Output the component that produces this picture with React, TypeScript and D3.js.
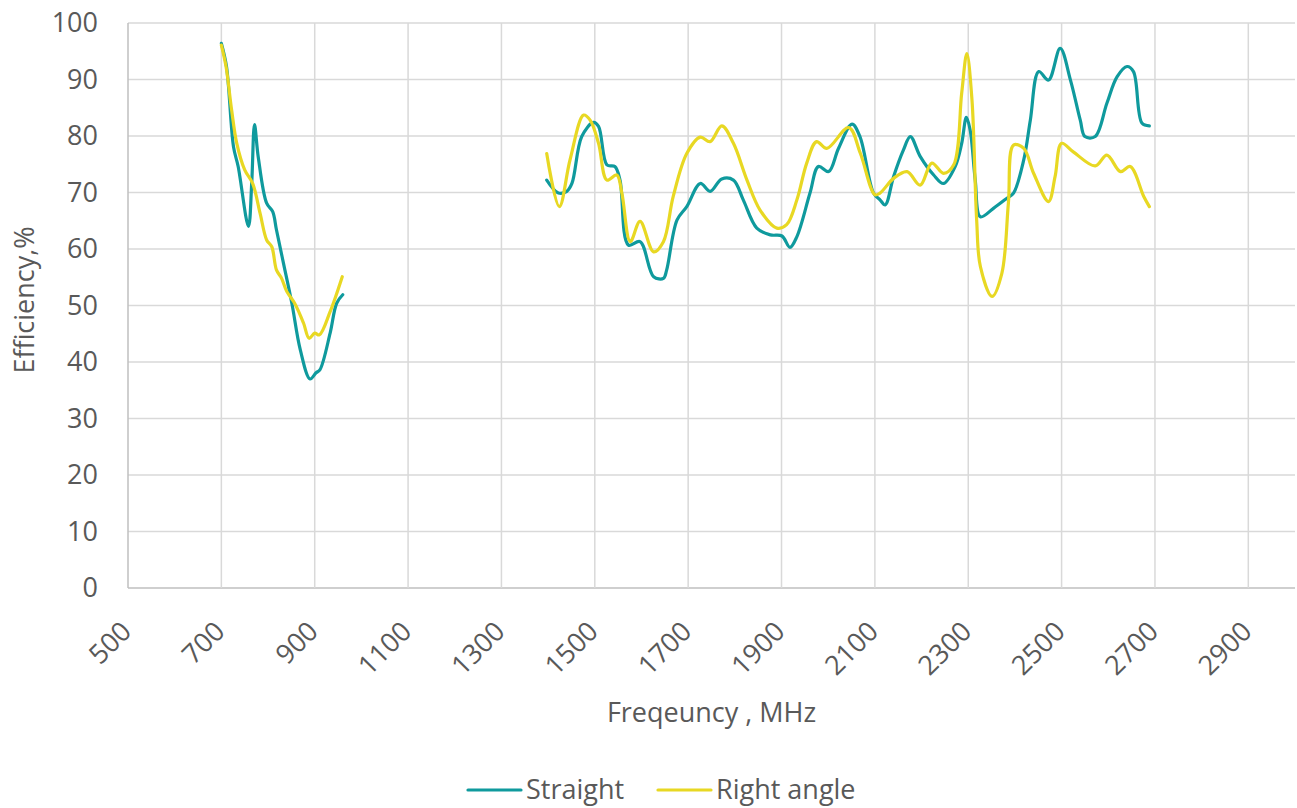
import React from "react";
import * as d3 from "d3";

const straightFreq = [
  700, 711, 726, 736, 758, 765, 771, 779, 797, 810, 818, 833, 851, 869, 890, 903, 911, 933, 947, 960,
  1100,
  1397, 1422, 1440, 1451, 1472, 1497, 1508, 1526, 1543, 1554, 1572, 1597, 1626, 1647, 1654, 1676, 1697,
  1726, 1747, 1772, 1797, 1818, 1847, 1876, 1901, 1918, 1933, 1961, 1979, 2001, 2022, 2051, 2068, 2097,
  2111, 2122, 2140, 2161, 2176, 2197, 2226, 2247, 2272, 2286, 2296, 2304, 2315, 2326, 2354, 2383, 2397,
  2419, 2433, 2451, 2472, 2497, 2519, 2540, 2550, 2572, 2597, 2619, 2640, 2654, 2672, 2688,
];
const straightEff = [
  96.4, 92.3, 78.1, 74.6, 64.0, 71.6, 82.0, 76.3, 68.1, 66.6, 63.4, 57.5, 50.4, 42.2, 37.0, 38.1, 38.6, 45.1, 50.4, 51.9,
  null,
  72.2, 69.9, 70.2, 71.6, 79.9, 82.4, 81.7, 74.9, 74.6, 72.2, 60.7, 61.3, 55.1, 54.8, 56.3, 65.1, 67.5,
  71.6, 70.2, 72.4, 72.2, 68.7, 63.7, 62.5, 62.3, 60.3, 62.2, 69.9, 74.6, 73.7, 77.8, 82.1, 79.9, 69.9,
  68.7, 67.8, 72.8, 77.5, 79.9, 76.4, 73.1, 71.6, 74.6, 78.7, 83.3, 81.1, 72.2, 65.7, 67.2, 69.0, 69.9,
  75.8, 82.8, 91.4, 89.9, 95.5, 89.9, 82.8, 79.9, 79.9, 85.8, 90.5, 92.3, 91.4, 82.3, 81.8,
];

const rightFreq = [
  700, 710, 722, 733, 750, 767, 783, 797, 808, 818, 829, 840, 857, 876, 888, 900, 910, 933, 959,
  1100,
  1397, 1424, 1447, 1476, 1490, 1508, 1526, 1547, 1558, 1576, 1597, 1626, 1647, 1668, 1697, 1726, 1747,
  1772, 1797, 1826, 1854, 1890, 1911, 1933, 1954, 1975, 1997, 2044, 2069, 2100, 2111, 2140, 2169, 2197,
  2222, 2247, 2269, 2286, 2297, 2308, 2318, 2326, 2351, 2372, 2386, 2397, 2419, 2440, 2472, 2486, 2500,
  2525, 2572, 2597, 2626, 2647, 2676, 2688,
];
const rightEff = [
  96.1, 92.3, 84.6, 78.7, 74.0, 71.6, 66.3, 61.6, 60.4, 56.3, 54.8, 52.5, 50.4, 46.9, 44.2, 45.1, 44.8, 48.9, 55.1,
  null,
  76.9, 67.5, 75.8, 83.7, 82.8, 78.7, 72.2, 73.1, 69.9, 61.3, 64.9, 59.5, 61.3, 69.3, 76.9, 79.8, 79.0,
  81.8, 78.7, 72.2, 66.9, 63.7, 64.3, 68.7, 75.2, 79.0, 77.8, 81.5, 76.9, 69.6, 69.9, 72.5, 73.7, 71.3,
  75.2, 73.4, 74.9, 87.6, 94.6, 86.4, 65.2, 56.9, 51.6, 55.7, 68.1, 78.4, 77.8, 73.4, 68.4, 72.8, 78.7,
  77.2, 74.7, 76.6, 73.7, 74.6, 69.3, 67.5,
];

const xTicks = d3.range(500, 3000, 200);
const yTicks = d3.range(0, 101, 10);

const seriesNames = ["Straight", "Right angle"];
const seriesColors = ["#0f9a9d", "#e8d823"];

const W = 1297;
const H = 808;
const plot = { left: 128, top: 23, right: 1295, bottom: 588 };
const FONT = "'Open Sans', sans-serif";
const TXT = "#595959";

export default function App() {
  const x = d3.scaleLinear().domain([500, 3000]).range([plot.left, plot.right]);
  const y = d3.scaleLinear().domain([0, 100]).range([plot.bottom, plot.top]);

  const line = d3
    .line<[number, number | null]>()
    .defined((d) => d[1] !== null)
    .x((d) => x(d[0]))
    .y((d) => y(d[1] as number))
    .curve(d3.curveCatmullRom.alpha(0.5));

  const series = [
    d3.zip(straightFreq, straightEff) as [number, number | null][],
    d3.zip(rightFreq, rightEff) as [number, number | null][],
  ];

  const legendX = [468, 658];

  return (
    <svg
      width={W}
      height={H}
      style={{ position: "absolute", left: 0, top: 0, background: "#fff" }}
      fontFamily={FONT}
    >
      {/* grid */}
      {yTicks.map((t) => (
        <line key={"h" + t} x1={plot.left} x2={plot.right} y1={y(t)} y2={y(t)}
          stroke={t === 0 ? "#bfbfbf" : "#d9d9d9"} strokeWidth={1.5} />
      ))}
      {xTicks.map((t) => (
        <line key={"v" + t} x1={x(t)} x2={x(t)} y1={plot.top} y2={plot.bottom}
          stroke={t === 500 ? "#bfbfbf" : "#d9d9d9"} strokeWidth={1.5} />
      ))}

      {/* y tick labels */}
      {yTicks.map((t) => (
        <text key={"yl" + t} x={98} y={y(t)} dy="0.35em" textAnchor="end" fontSize={27} fill={TXT}>
          {t}
        </text>
      ))}

      {/* x tick labels */}
      {xTicks.map((t) => (
        <text key={"xl" + t} transform={`translate(${x(t) + 5},633) rotate(-45)`}
          textAnchor="end" fontSize={27} fill={TXT}>
          {t}
        </text>
      ))}

      {/* lines */}
      {series.map((s, i) => (
        <path key={seriesNames[i]} d={line(s) ?? ""} fill="none" stroke={seriesColors[i]}
          strokeWidth={3.2} strokeLinejoin="round" strokeLinecap="round" />
      ))}

      {/* axis titles */}
      <text x={(plot.left + plot.right) / 2} y={722} textAnchor="middle" fontSize={27} fill={TXT}>
        Freqeuncy , MHz
      </text>
      <text transform={`translate(34,300) rotate(-90)`} textAnchor="middle" fontSize={27} fill={TXT}>
        Efficiency,%
      </text>

      {/* legend */}
      {seriesNames.map((n, i) => (
        <g key={"lg" + n}>
          <line x1={legendX[i]} x2={legendX[i] + 53} y1={790} y2={790}
            stroke={seriesColors[i]} strokeWidth={3.2} strokeLinecap="round" />
          <text x={legendX[i] + 58} y={790} dy="0.35em" fontSize={27} fill={TXT}>
            {n}
          </text>
        </g>
      ))}
    </svg>
  );
}
